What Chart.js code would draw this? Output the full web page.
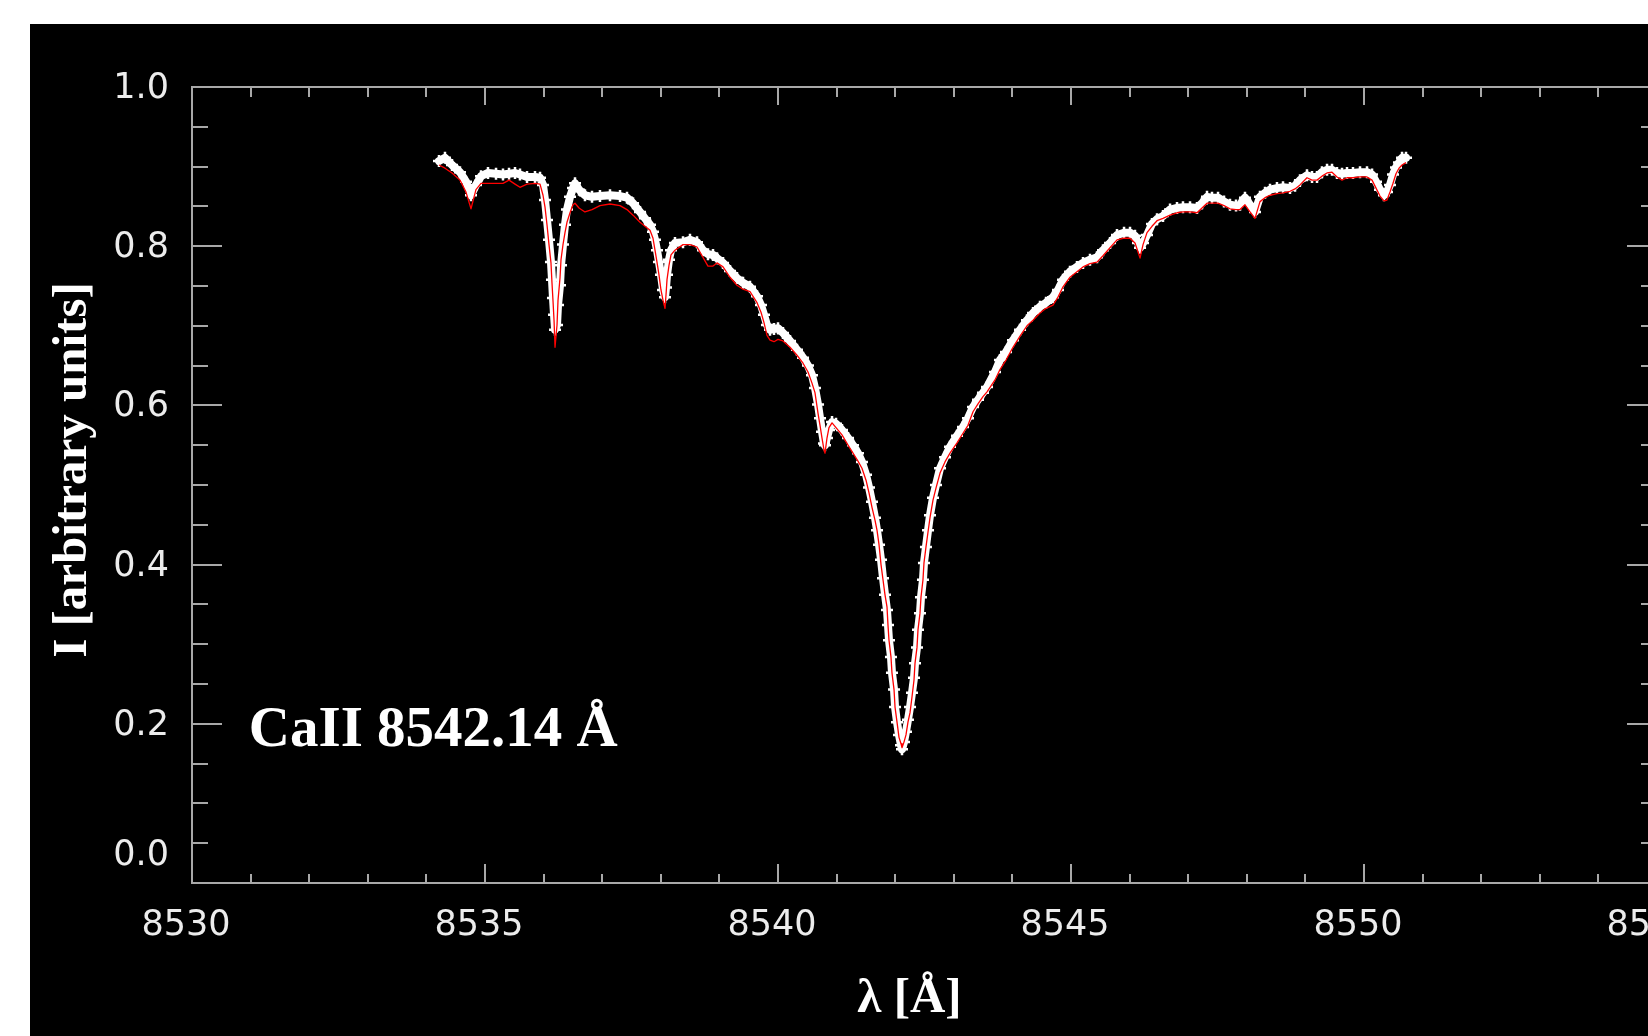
<!DOCTYPE html>
<html>
<head>
<meta charset="utf-8">
<title>CaII 8542 profile</title>
<script src="https://cdn.jsdelivr.net/npm/chart.js@4.4.0/dist/chart.umd.min.js"></script>
<style>
  html, body { margin: 0; padding: 0; background: #fff; overflow: hidden; }
  #wrap { position: absolute; left: 30px; top: 24px; width: 1700px; height: 1100px; background: #000; }
  canvas { display: block; }
</style>
</head>
<body>
<div id="wrap"><canvas id="profileChart" width="1700" height="1100"></canvas></div>
<script>
// wavelength grid (Å)
const wave = [
  8534.215, 8534.317, 8534.437, 8534.573, 8534.676, 8534.761, 8534.846, 8534.932, 8535.051, 8535.188,
  8535.307, 8535.410, 8535.512, 8535.597, 8535.717, 8535.853, 8535.939, 8535.990, 8536.024, 8536.058,
  8536.092, 8536.126, 8536.143, 8536.160, 8536.178, 8536.195, 8536.229, 8536.246, 8536.280, 8536.297,
  8536.331, 8536.365, 8536.399, 8536.451, 8536.502, 8536.536, 8536.604, 8536.706, 8536.826, 8536.962,
  8537.133, 8537.304, 8537.423, 8537.526, 8537.645, 8537.730, 8537.816, 8537.867, 8537.901, 8537.935,
  8537.969, 8538.003, 8538.038, 8538.072, 8538.089, 8538.106, 8538.140, 8538.174, 8538.242, 8538.379,
  8538.498, 8538.618, 8538.720, 8538.805, 8538.891, 8538.959, 8539.062, 8539.181, 8539.300, 8539.403,
  8539.522, 8539.642, 8539.710, 8539.761, 8539.812, 8539.864, 8539.932, 8540.000, 8540.085, 8540.205,
  8540.324, 8540.427, 8540.512, 8540.580, 8540.631, 8540.683, 8540.717, 8540.751, 8540.785, 8540.802,
  8540.836, 8540.870, 8540.922, 8540.990, 8541.092, 8541.195, 8541.280, 8541.365, 8541.433, 8541.502,
  8541.553, 8541.604, 8541.655, 8541.690, 8541.724, 8541.758, 8541.792, 8541.826, 8541.860, 8541.877,
  8541.894, 8541.928, 8541.945, 8541.980, 8541.997, 8542.031, 8542.065, 8542.099, 8542.116, 8542.150,
  8542.184, 8542.218, 8542.253, 8542.287, 8542.321, 8542.338, 8542.372, 8542.389, 8542.423, 8542.440,
  8542.474, 8542.491, 8542.525, 8542.560, 8542.594, 8542.645, 8542.696, 8542.765, 8542.850, 8542.935,
  8543.055, 8543.157, 8543.242, 8543.328, 8543.413, 8543.498, 8543.567, 8543.703, 8543.788, 8543.891,
  8544.010, 8544.130, 8544.249, 8544.352, 8544.471, 8544.574, 8544.693, 8544.778, 8544.864, 8544.983,
  8545.102, 8545.205, 8545.324, 8545.444, 8545.546, 8545.666, 8545.785, 8545.905, 8546.007, 8546.092,
  8546.143, 8546.178, 8546.229, 8546.297, 8546.382, 8546.468, 8546.570, 8546.690, 8546.809, 8546.911,
  8547.031, 8547.150, 8547.236, 8547.321, 8547.406, 8547.509, 8547.611, 8547.713, 8547.816, 8547.884,
  8547.969, 8548.055, 8548.140, 8548.225, 8548.311, 8548.396, 8548.515, 8548.618, 8548.737, 8548.823,
  8548.908, 8549.027, 8549.113, 8549.198, 8549.283, 8549.369, 8549.454, 8549.539, 8549.625, 8549.710,
  8549.812, 8549.932, 8550.051, 8550.137, 8550.205, 8550.273, 8550.341, 8550.392, 8550.444, 8550.495,
  8550.546, 8550.597, 8550.649, 8550.717
];

// observed intensity (white crosses)
const obsI = [
  0.907, 0.911, 0.902, 0.893, 0.881, 0.864, 0.877, 0.888, 0.892, 0.891,
  0.890, 0.891, 0.892, 0.890, 0.887, 0.887, 0.886, 0.877, 0.858, 0.833,
  0.808, 0.780, 0.758, 0.735, 0.714, 0.695, 0.701, 0.726, 0.751, 0.776,
  0.802, 0.827, 0.846, 0.862, 0.873, 0.879, 0.871, 0.864, 0.862, 0.863,
  0.864, 0.863, 0.861, 0.854, 0.843, 0.835, 0.827, 0.818, 0.808, 0.795,
  0.780, 0.764, 0.745, 0.736, 0.748, 0.764, 0.783, 0.795, 0.804, 0.805,
  0.808, 0.805, 0.795, 0.790, 0.789, 0.785, 0.779, 0.769, 0.760, 0.754,
  0.749, 0.737, 0.726, 0.714, 0.701, 0.695, 0.696, 0.697, 0.691, 0.681,
  0.670, 0.660, 0.650, 0.638, 0.622, 0.601, 0.584, 0.567, 0.552, 0.550,
  0.559, 0.569, 0.579, 0.577, 0.569, 0.559, 0.550, 0.540, 0.529, 0.513,
  0.497, 0.479, 0.459, 0.443, 0.425, 0.406, 0.383, 0.362, 0.343, 0.324,
  0.305, 0.284, 0.264, 0.243, 0.221, 0.202, 0.186, 0.173, 0.168, 0.177,
  0.190, 0.205, 0.221, 0.239, 0.258, 0.276, 0.296, 0.318, 0.339, 0.359,
  0.381, 0.402, 0.422, 0.443, 0.462, 0.484, 0.500, 0.521, 0.535, 0.548,
  0.562, 0.573, 0.584, 0.598, 0.607, 0.616, 0.623, 0.642, 0.657, 0.667,
  0.682, 0.695, 0.707, 0.716, 0.724, 0.729, 0.736, 0.745, 0.758, 0.768,
  0.774, 0.779, 0.783, 0.786, 0.795, 0.804, 0.814, 0.817, 0.817, 0.813,
  0.804, 0.798, 0.804, 0.814, 0.828, 0.834, 0.838, 0.846, 0.848, 0.849,
  0.849, 0.848, 0.854, 0.862, 0.861, 0.861, 0.856, 0.852, 0.851, 0.852,
  0.861, 0.852, 0.843, 0.862, 0.867, 0.871, 0.873, 0.874, 0.873, 0.876,
  0.883, 0.889, 0.887, 0.887, 0.893, 0.896, 0.896, 0.892, 0.891, 0.892,
  0.892, 0.893, 0.893, 0.890, 0.881, 0.871, 0.864, 0.868, 0.877, 0.890,
  0.899, 0.905, 0.911, 0.911
];

// synthetic / fitted intensity (red line)
const fitI = [
  0.902, 0.898, 0.892, 0.883, 0.868, 0.847, 0.871, 0.879, 0.879, 0.879,
  0.879, 0.883, 0.878, 0.874, 0.878, 0.879, 0.878, 0.864, 0.849, 0.827,
  0.802, 0.779, 0.754, 0.732, 0.707, 0.673, 0.701, 0.732, 0.760, 0.783,
  0.802, 0.817, 0.830, 0.842, 0.852, 0.854, 0.848, 0.843, 0.846, 0.851,
  0.853, 0.851, 0.846, 0.839, 0.830, 0.825, 0.820, 0.810, 0.795, 0.780,
  0.764, 0.745, 0.732, 0.722, 0.739, 0.758, 0.776, 0.789, 0.795, 0.802,
  0.802, 0.799, 0.786, 0.775, 0.775, 0.779, 0.774, 0.761, 0.751, 0.746,
  0.743, 0.729, 0.717, 0.704, 0.688, 0.682, 0.680, 0.683, 0.681, 0.673,
  0.663, 0.653, 0.642, 0.628, 0.616, 0.590, 0.575, 0.559, 0.544, 0.540,
  0.559, 0.572, 0.578, 0.572, 0.563, 0.550, 0.540, 0.530, 0.521, 0.506,
  0.490, 0.472, 0.456, 0.443, 0.425, 0.400, 0.381, 0.362, 0.347, 0.324,
  0.305, 0.284, 0.264, 0.243, 0.221, 0.202, 0.183, 0.175, 0.170, 0.177,
  0.186, 0.202, 0.214, 0.234, 0.255, 0.276, 0.296, 0.318, 0.339, 0.359,
  0.381, 0.402, 0.422, 0.441, 0.459, 0.481, 0.496, 0.515, 0.529, 0.540,
  0.553, 0.565, 0.575, 0.592, 0.602, 0.611, 0.617, 0.632, 0.645, 0.657,
  0.673, 0.687, 0.700, 0.707, 0.716, 0.722, 0.726, 0.736, 0.749, 0.761,
  0.768, 0.774, 0.778, 0.780, 0.788, 0.798, 0.808, 0.810, 0.810, 0.804,
  0.793, 0.785, 0.802, 0.817, 0.825, 0.832, 0.835, 0.839, 0.842, 0.843,
  0.843, 0.842, 0.848, 0.854, 0.854, 0.854, 0.851, 0.847, 0.846, 0.846,
  0.852, 0.843, 0.835, 0.856, 0.861, 0.864, 0.866, 0.867, 0.869, 0.872,
  0.877, 0.886, 0.883, 0.883, 0.888, 0.892, 0.893, 0.887, 0.883, 0.886,
  0.886, 0.887, 0.887, 0.883, 0.873, 0.863, 0.857, 0.858, 0.868, 0.879,
  0.891, 0.898, 0.902, 0.905
];

const xTicks = [8530, 8535, 8540, 8545, 8550, 8555];
const xTickLabels = ["8530", "8535", "8540", "8545", "8550", "8555"];
const yTicks = [1.0, 0.8, 0.6, 0.4, 0.2, 0.0];
const yTickLabels = ["1.0", "0.8", "0.6", "0.4", "0.2", "0.0"];

const xTitle = "λ [Å]";
const yTitle = "I [arbitrary units]";
const lineName = "CaII 8542.14 Å";
const lineNameAt = { x: 8530.97, y: 0.172 };

const AXIS_COLOR = "#a8a8a8";
const TICK_FONT = "35px 'DejaVu Sans'";
const TITLE_FONT = "bold 49px 'Liberation Serif'";
const NOTE_FONT = "bold 57px 'Liberation Serif'";

const toPoints = (ys) => wave.map((w, i) => ({ x: w, y: ys[i] }));

// inward ticks on all four sides, boxed frame
const framePlugin = {
  id: "frame",
  beforeDatasetsDraw(chart) {
    const { ctx, chartArea: a, scales } = chart;
    const x = scales.x, y = scales.y;
    ctx.save();
    ctx.strokeStyle = AXIS_COLOR;
    ctx.lineWidth = 2;
    ctx.strokeRect(a.left, a.top, a.right - a.left, a.bottom - a.top);
    ctx.beginPath();
    for (let v = 8530; v <= 8555; v++) {
      const px = Math.round(x.getPixelForValue(v));
      const major = v % 5 === 0;
      ctx.moveTo(px, a.bottom);
      ctx.lineTo(px, a.bottom - (major ? 19 : 9));
      ctx.moveTo(px, a.top);
      ctx.lineTo(px, a.top + (major ? 18 : 10));
    }
    for (let k = 0; k <= 20; k++) {
      const py = Math.round(y.getPixelForValue(k * 0.05));
      const major = k % 4 === 0;
      ctx.moveTo(a.left, py);
      ctx.lineTo(a.left + (major ? 30 : 16), py);
      ctx.moveTo(a.right, py);
      ctx.lineTo(a.right - (major ? 30 : 16), py);
    }
    ctx.stroke();
    ctx.restore();
  },
  afterDraw(chart) {
    const { ctx, chartArea: a, scales } = chart;
    const x = scales.x, y = scales.y;
    ctx.save();

    ctx.fillStyle = "#ececec";
    ctx.font = TICK_FONT;
    ctx.textBaseline = "alphabetic";
    ctx.textAlign = "center";
    xTicks.forEach((v, i) => {
      ctx.fillText(xTickLabels[i], x.getPixelForValue(v) - 6, a.bottom + 52);
    });
    ctx.textAlign = "right";
    yTicks.forEach((v, i) => {
      // the bottom label sits a little above the axis in the original
      const py = v === 0 ? a.bottom - 18 : y.getPixelForValue(v) + 11;
      ctx.fillText(yTickLabels[i], a.left - 23, py);
    });

    ctx.fillStyle = "#ffffff";
    ctx.font = TITLE_FONT;
    ctx.textAlign = "center";
    ctx.textBaseline = "middle";
    ctx.fillText(xTitle, (a.left + a.right) / 2 - 15, a.bottom + 116);

    ctx.save();
    ctx.translate(a.left - 119, (a.top + a.bottom) / 2 - 15);
    ctx.rotate(-Math.PI / 2);
    ctx.fillText(yTitle, 0, 0);
    ctx.restore();

    ctx.font = NOTE_FONT;
    ctx.textAlign = "left";
    ctx.textBaseline = "alphabetic";
    ctx.fillText(lineName, x.getPixelForValue(lineNameAt.x), y.getPixelForValue(lineNameAt.y));

    ctx.restore();
  }
};

const canvas = document.getElementById("profileChart");
new Chart(canvas, {
  type: "scatter",
  data: {
    datasets: [
      {
        label: "fit",
        data: toPoints(fitI),
        showLine: true,
        borderColor: "#ff0000",
        borderWidth: 1.3,
        borderJoinStyle: "round",
        pointRadius: 0,
        order: 0
      },
      {
        label: "observed",
        data: toPoints(obsI),
        showLine: true,
        borderColor: "#ffffff",
        borderWidth: 8,
        borderJoinStyle: "round",
        borderCapStyle: "round",
        pointStyle: "cross",
        pointRadius: 6,
        pointBorderWidth: 2.5,
        pointBorderColor: "#ffffff",
        order: 1
      }
    ]
  },
  options: {
    responsive: false,
    animation: false,
    devicePixelRatio: 1,
    layout: { padding: { left: 162, top: 63, right: 73, bottom: 241 } },
    plugins: { legend: { display: false }, tooltip: { enabled: false } },
    scales: {
      x: { type: "linear", min: 8530, max: 8555, display: false },
      y: { type: "linear", min: 0, max: 1, display: false }
    }
  },
  plugins: [framePlugin]
});
</script>
</body>
</html>
